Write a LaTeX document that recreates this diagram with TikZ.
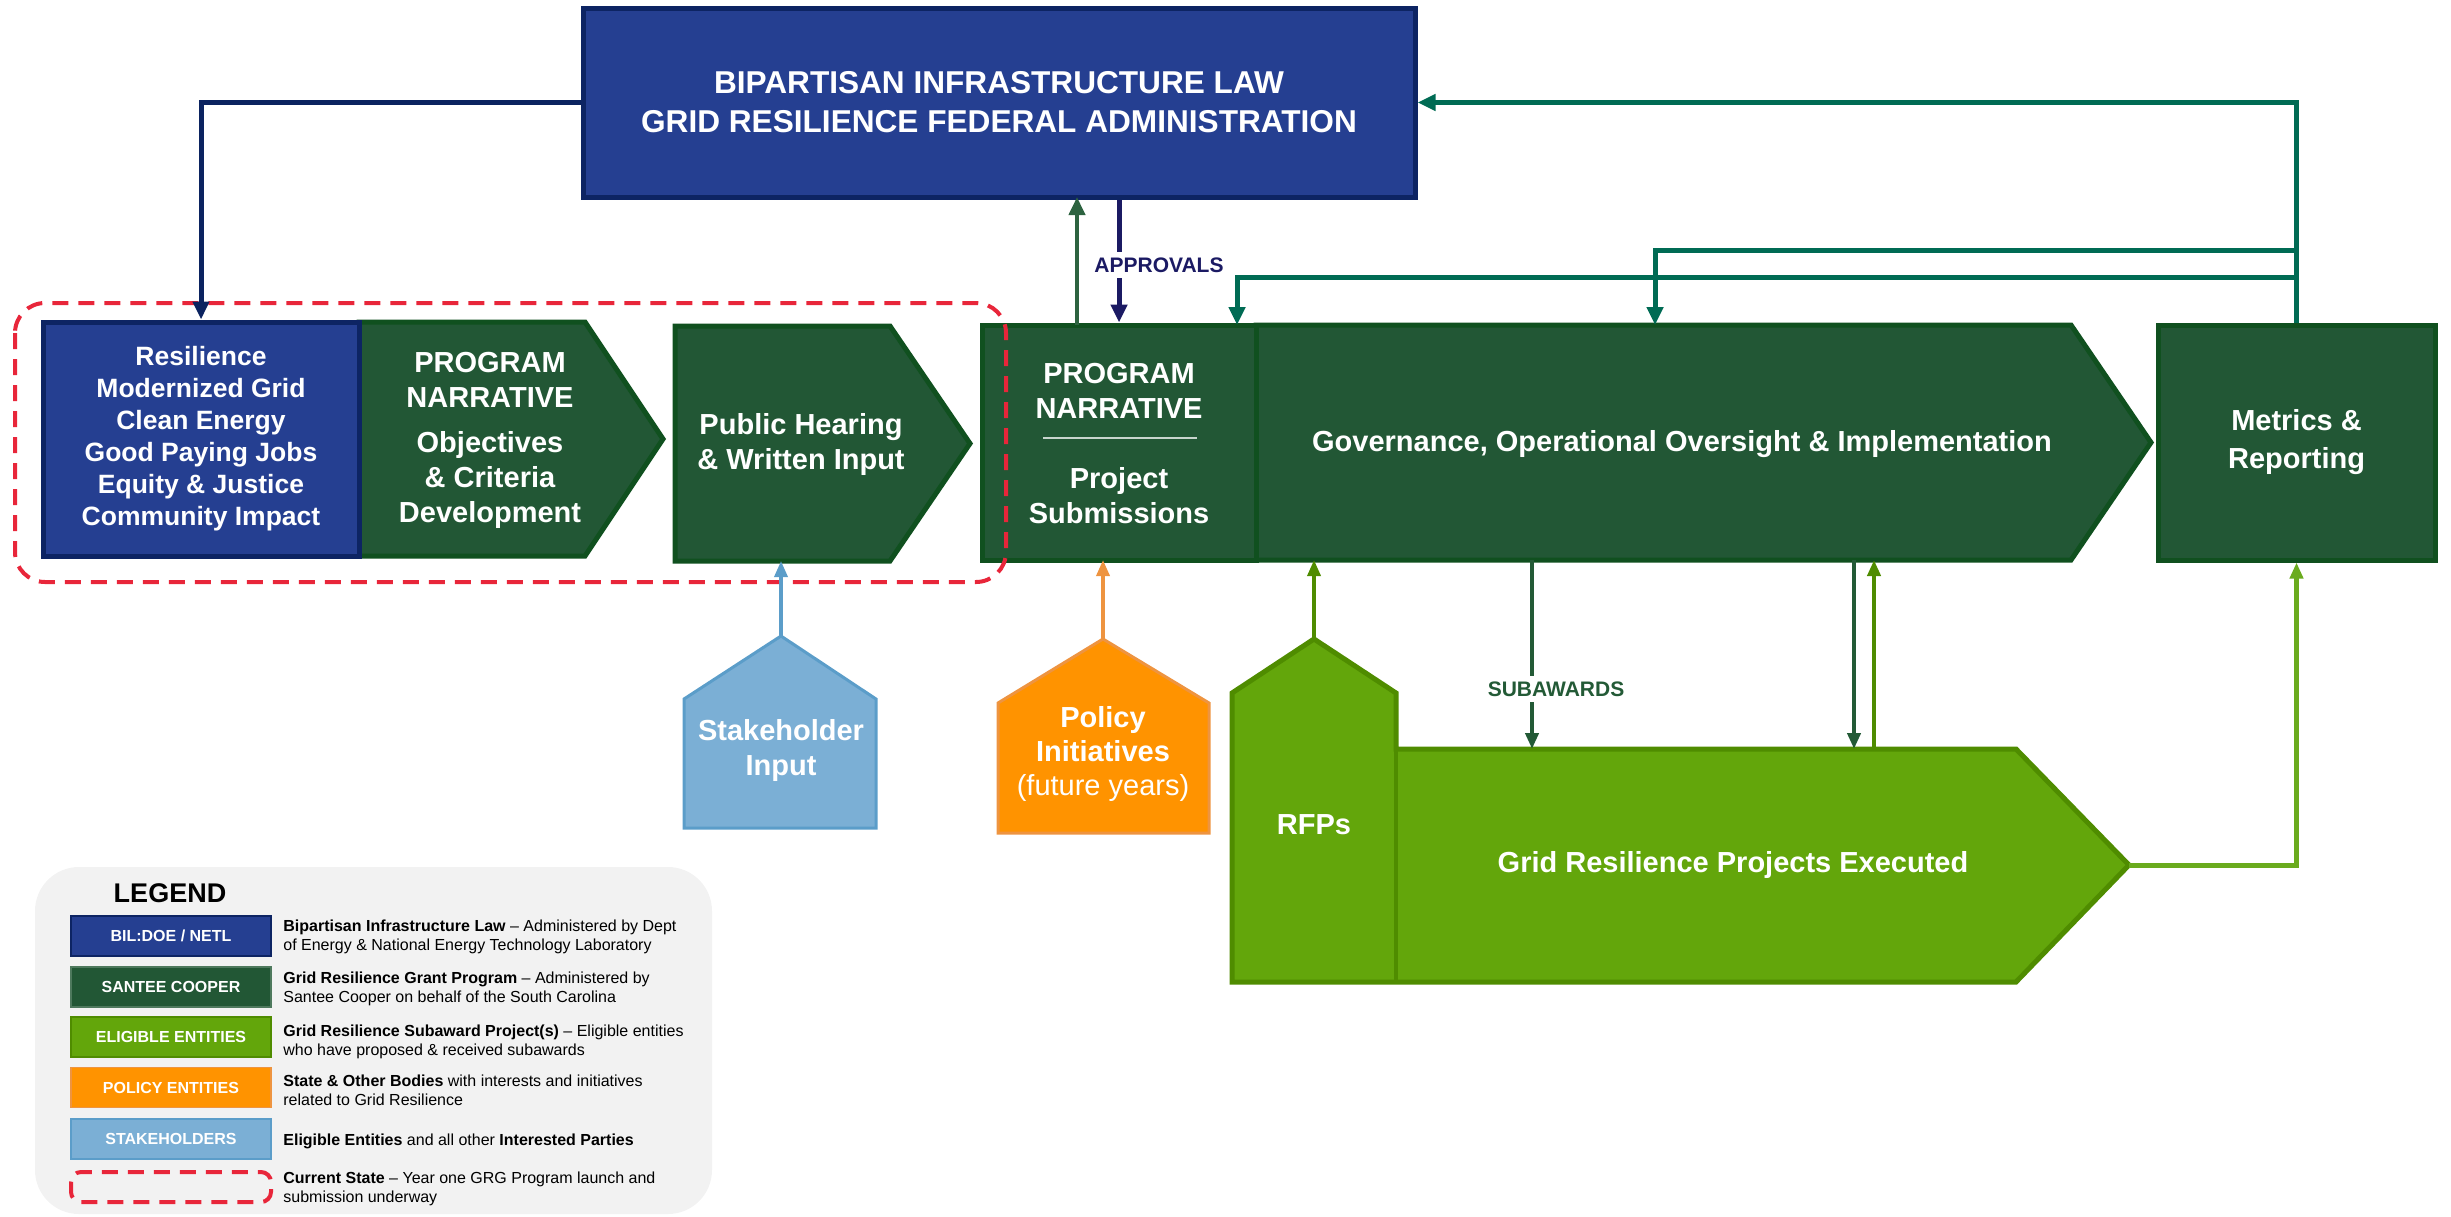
\documentclass[tikz,border=0pt]{standalone}
\usepackage{fontspec}
\setmainfont{Liberation Sans}
\usetikzlibrary{arrows.meta}
\definecolor{navyf}{HTML}{253F91}
\definecolor{navyl}{HTML}{0D2463}
\definecolor{dgreen}{HTML}{225735}
\definecolor{dgreenl}{HTML}{10501F}
\definecolor{lgreen}{HTML}{63A60B}
\definecolor{lgreenl}{HTML}{4F8C00}
\definecolor{lgreena}{HTML}{6AAB1E}
\definecolor{orangef}{HTML}{FF9300}
\definecolor{orangel}{HTML}{EE9440}
\definecolor{lbluef}{HTML}{7BAFD5}
\definecolor{lbluel}{HTML}{5B9DC9}
\definecolor{tealc}{HTML}{006B54}
\definecolor{redd}{HTML}{E8263A}
\definecolor{legbg}{HTML}{F2F2F2}
\definecolor{apprc}{HTML}{1B1A63}
\definecolor{navyarr}{HTML}{0B2360}
\definecolor{upgreen}{HTML}{2D6340}
\definecolor{subgreen}{HTML}{235A36}
\begin{document}
\begin{tikzpicture}[x=0.5pt,y=-0.5pt,
  box/.style={line width=2.5pt, line join=miter},
  wt/.style={text=white, font=\bfseries\fontsize{14.5}{17.5}\selectfont, align=center, inner sep=0pt},
  tipA/.style={-{Triangle[length=9pt,width=8pt]}},
  tipB/.style={-{Triangle[length=8pt,width=6.5pt]}},
  lab/.style={font=\bfseries\fontsize{10.5}{12}\selectfont, fill=white, inner xsep=2pt, inner ysep=3pt},
  swatch/.style={minimum width=100pt, minimum height=20pt, inner sep=0pt, text=white, font=\bfseries\fontsize{8}{9}\selectfont, line width=0.8pt},
  desc/.style={anchor=west, align=left, inner sep=0pt, font=\fontsize{8}{9.5}\selectfont}]
\useasboundingbox (0,0) rectangle (2451,1216);

% ---------- top box ----------
\node[box, draw=navyl, fill=navyf, minimum width=416pt, minimum height=94.5pt, inner sep=0pt,
  text=white, font=\bfseries\fontsize{15.8}{19.5}\selectfont, align=center] (bil) at (999,102.5)
  {BIPARTISAN INFRASTRUCTURE LAW\\GRID RESILIENCE FEDERAL ADMINISTRATION};

% ---------- left group ----------
\draw[box, draw=dgreenl, fill=dgreen] (359,322) -- (585,322) -- (663,439) -- (585,556) -- (359,556) -- cycle;
\node[box, draw=navyl, fill=navyf, minimum width=158pt, minimum height=117pt, inner sep=0pt,
  text=white, font=\bfseries\fontsize{13.25}{16}\selectfont, align=center] (res) at (201,439)
  {Resilience\\Modernized Grid\\Clean Energy\\Good Paying Jobs\\Equity \& Justice\\Community Impact};
\node[wt] (obj) at (490,440) {PROGRAM\\NARRATIVE\\[5pt]Objectives\\\& Criteria\\Development};

\draw[box, draw=dgreenl, fill=dgreen] (675,326) -- (890,326) -- (970,443.5) -- (890,561) -- (675,561) -- cycle;
\node[wt] (pub) at (801,444) {Public Hearing\\\& Written Input};

% ---------- middle group ----------
\draw[box, draw=dgreenl, fill=dgreen] (1256,325) -- (2071,325) -- (2151,442.5) -- (2071,560) -- (1256,560) -- cycle;
\node[box, draw=dgreenl, fill=dgreen, minimum width=137pt, minimum height=117.5pt, inner sep=0pt] (pn) at (1119,442.5) {};
\node[wt] (pnA) at (1119,391) {PROGRAM\\NARRATIVE};
\draw[white!75!dgreen, line width=0.6pt] (1043,438) -- (1197,438);
\node[wt] (pnB) at (1119,496) {Project\\Submissions};
\node[wt] (gov) at (1682,444) {Governance, Operational Oversight \& Implementation};

\node[box, draw=dgreenl, fill=dgreen, minimum width=138.5pt, minimum height=117.5pt, inner sep=0pt,
  text=white, font=\bfseries\fontsize{14.5}{19}\selectfont, align=center] (met) at (2296.5,442.5)
  {Metrics \&\\Reporting};

% ---------- bottom shapes ----------
\draw[line width=1.5pt, draw=lbluel, fill=lbluef] (684,699) -- (781,636) -- (876,699) -- (876,828) -- (684,828) -- cycle;
\node[wt] (stk) at (781,750) {Stakeholder\\Input};

\draw[line width=1.5pt, draw=orangel, fill=orangef] (998,703) -- (1103,639) -- (1209,703) -- (1209,833) -- (998,833) -- cycle;
\node[text=white, align=center, inner sep=0pt, font=\fontsize{14.5}{17}\selectfont] (pol) at (1103,754)
  {\textbf{Policy}\\\textbf{Initiatives}\\(future years)};

\draw[box, draw=lgreenl, fill=lgreen] (1232,693) -- (1314,639) -- (1396,693) -- (1396,749) -- (2016,749) -- (2129,865) -- (2016,982) -- (1232,982) -- cycle;
\draw[lgreenl, line width=2pt] (1396,749) -- (1396,982);
\node[wt] (rfp) at (1314,825) {RFPs};
\node[wt] (exe) at (1733,865) {Grid Resilience Projects Executed};

% ---------- current state outline ----------
\draw[redd, line width=2pt, dash pattern=on 8pt off 5pt, rounded corners=15pt] (15,303) rectangle (1006,582);

% ---------- connectors ----------
\draw[navyarr, line width=2.5pt, tipA] (bil.west) -| (res.north);
\draw[tealc, line width=2.5pt, tipA] (met.north) |- (bil.east);
\coordinate (tA) at (2296.5,250);
\coordinate (tB) at (2296.5,277);
\coordinate (gA) at (1655,325);
\coordinate (gB) at (1237,325);
\draw[tealc, line width=2.5pt, tipA] (tA) -| (gA);
\draw[tealc, line width=2.5pt, tipA] (tB) -| (gB);

\coordinate (pnUp) at (1077,325);
\coordinate (bilUp) at (1077,197);
\draw[upgreen, line width=2pt, tipA] (pnUp) -- (bilUp);
\draw[apprc, line width=2.5pt, tipA] (pn.north |- bil.south) -- (pn.north);
\node[lab, text=apprc] (apl) at (1159,265) {APPROVALS};

\coordinate (phB) at (781,561);
\coordinate (stkT) at (781,636);
\draw[lbluel, line width=1.75pt, tipB] (stkT) -- (phB);
\coordinate (polT) at (1103,639);
\coordinate (pnB2) at (1103,560);
\draw[orangel, line width=1.75pt, tipB] (polT) -- (pnB2);
\coordinate (rfpT) at (1314,639);
\coordinate (govB1) at (1314,560);
\draw[lgreenl, line width=1.75pt, tipB] (rfpT) -- (govB1);

\coordinate (govB2) at (1532,560);
\coordinate (exeT1) at (1532,749);
\draw[subgreen, line width=2pt, tipB] (govB2) -- (exeT1);
\node[lab, text=subgreen] (sbl) at (1556,689) {SUBAWARDS};
\coordinate (govB3) at (1854,560);
\coordinate (exeT2) at (1854,749);
\draw[subgreen, line width=2pt, tipB] (govB3) -- (exeT2);
\coordinate (exeT3) at (1874,749);
\coordinate (govB4) at (1874,560);
\draw[lgreenl, line width=2pt, tipB] (exeT3) -- (govB4);
\coordinate (exeTip) at (2129,865);
\draw[lgreena, line width=2.5pt, tipB] (exeTip) -| (met.south);

% ---------- legend ----------
\path[fill=legbg, rounded corners=22pt] (35,867) rectangle (712,1214);
\node[font=\bfseries\fontsize{13.5}{15}\selectfont, inner sep=0pt] (legt) at (170,893) {LEGEND};
\node[swatch, draw=navyl, fill=navyf] (s1) at (171,936) {BIL:DOE / NETL};
\node[swatch, draw=dgreen!80!white, fill=dgreen] (s2) at (171,987) {SANTEE COOPER};
\node[swatch, draw=lgreenl, fill=lgreen] (s3) at (171,1037) {ELIGIBLE ENTITIES};
\node[swatch, draw=orangel, fill=orangef] (s4) at (171,1087.5) {POLICY ENTITIES};
\node[swatch, draw=lbluel, fill=lbluef] (s5) at (171,1139) {STAKEHOLDERS};
\draw[redd, line width=2pt, dash pattern=on 8pt off 5pt, rounded corners=5pt] (71,1172) rectangle (271,1202);
\node[desc] (d1) at (283,936.5) {\textbf{Bipartisan Infrastructure Law} – Administered by Dept\\of Energy \& National Energy Technology Laboratory};
\node[desc] (d2) at (283,989) {\textbf{Grid Resilience Grant Program} – Administered by\\Santee Cooper on behalf of the South Carolina};
\node[desc] (d3) at (283,1041.5) {\textbf{Grid Resilience Subaward Project(s)} – Eligible entities\\who have proposed \& received subawards};
\node[desc] (d4) at (283,1090) {\textbf{State \& Other Bodies} with interests and initiatives\\related to Grid Resilience};
\node[desc] (d5) at (283,1141) {\textbf{Eligible Entities} and all other \textbf{Interested Parties}};
\node[desc] (d6) at (283,1188.5) {\textbf{Current State} – Year one GRG Program launch and\\submission underway};
\end{tikzpicture}
\end{document}
